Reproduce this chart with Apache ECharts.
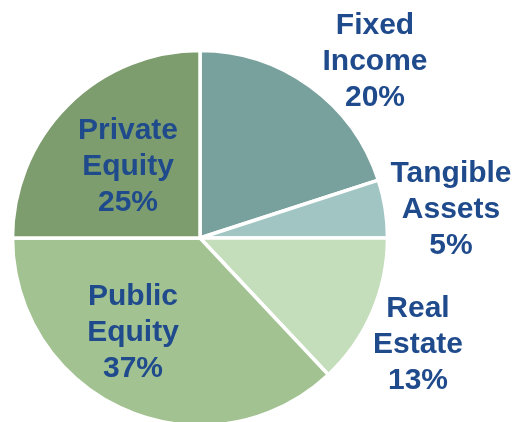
<!DOCTYPE html>
<html>
<head>
<meta charset="utf-8">
<script src="https://cdn.jsdelivr.net/npm/echarts@6/dist/echarts.min.js"></script>
<style>html,body{margin:0;padding:0;background:#fff;}#c{width:517px;height:422px;}</style>
</head>
<body>
<div id="c"></div>
<script>
const categories = ['Fixed Income', 'Tangible Assets', 'Real Estate', 'Public Equity', 'Private Equity'];
const labelLines = [['Fixed', 'Income'], ['Tangible', 'Assets'], ['Real', 'Estate'], ['Public', 'Equity'], ['Private', 'Equity']];
const values = [20, 5, 13, 37, 25];
const colors = ['#78A09D', '#A1C5C3', '#C4DDBA', '#A3C292', '#7D9D6E'];
const labelPos = [[375, 62], [451, 210], [418, 345], [133, 333], [128, 167]];

const chart = echarts.init(document.getElementById('c'), null, {renderer: 'canvas'});
chart.setOption({
  animation: false,
  series: [{
    type: 'pie',
    center: [200, 238],
    radius: 187.5,
    startAngle: 90,
    clockwise: true,
    label: {show: false},
    labelLine: {show: false},
    itemStyle: {borderColor: '#ffffff', borderWidth: 3.5},
    data: categories.map((c, i) => ({name: c, value: values[i], itemStyle: {color: colors[i]}}))
  }],
  graphic: categories.map((c, i) => ({
    type: 'text',
    z: 100,
    x: labelPos[i][0],
    y: labelPos[i][1],
    style: {
      text: labelLines[i].join('\n') + '\n' + values[i] + '%',
      fontFamily: 'Liberation Sans, Arial, sans-serif',
      fontWeight: 'bold',
      fontSize: 30,
      lineHeight: 36,
      fill: '#1F4A8C',
      align: 'center',
      verticalAlign: 'middle'
    }
  }))
});
</script>
</body>
</html>
